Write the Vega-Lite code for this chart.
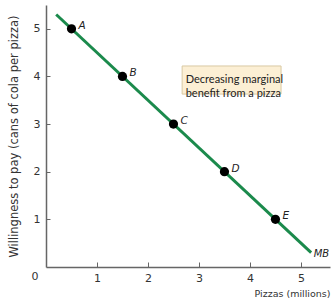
{
  "$schema": "https://vega.github.io/schema/vega-lite/v6.json",
  "autosize": "none",
  "width": 284,
  "height": 262,
  "padding": {"left": 46, "top": 5, "right": 6, "bottom": 33},
  "background": "white",
  "config": {
    "view": {"stroke": null},
    "font": "DejaVu Sans",
    "axis": {"domainColor": "#666", "domainWidth": 1.5, "tickColor": "#666", "tickWidth": 1, "labelColor": "#333", "labelFont": "DejaVu Sans", "labelFontSize": 11, "titleFont": "DejaVu Sans", "titleFontWeight": "normal", "titleFontSize": 10.5, "titleColor": "#333", "grid": false, "format": "d"}
  },
  "datasets": {
    "points": [
      {"pizzas": 0.5, "wtp": 5, "label": "A"},
      {"pizzas": 1.5, "wtp": 4, "label": "B"},
      {"pizzas": 2.5, "wtp": 3, "label": "C"},
      {"pizzas": 3.5, "wtp": 2, "label": "D"},
      {"pizzas": 4.5, "wtp": 1, "label": "E"}
    ],
    "curve": [
      {"pizzas": 0.2, "wtp": 5.3},
      {"pizzas": 5.2, "wtp": 0.3}
    ],
    "curveLabel": [{"pizzas": 5.25, "wtp": 0.27, "label": "MB"}],
    "origin": [{"pizzas": 0, "wtp": 0, "label": "0"}],
    "box": [{"x1": 2.67, "x2": 4.61, "y1": 4.22, "y2": 3.63}],
    "note": [{"x": 2.74, "y": 3.93, "text": "Decreasing marginal\nbenefit from a pizza"}]
  },
  "layer": [
    {
      "data": {"name": "box"},
      "mark": {"type": "rect", "fill": "#fcefd4", "stroke": "#d9c9a3", "strokeWidth": 1},
      "encoding": {
        "x": {"field": "x1", "type": "quantitative", "scale": {"domain": [0, 5.57], "nice": false}},
        "x2": {"field": "x2"},
        "y": {"field": "y1", "type": "quantitative", "scale": {"domain": [0, 5.5], "nice": false}},
        "y2": {"field": "y2"}
      }
    },
    {
      "data": {"name": "note"},
      "mark": {"type": "text", "align": "left", "baseline": "middle", "font": "Lato", "fontSize": 11, "lineHeight": 14, "lineBreak": "\n", "color": "#222"},
      "encoding": {
        "x": {"field": "x", "type": "quantitative"},
        "y": {"field": "y", "type": "quantitative"},
        "text": {"field": "text"}
      }
    },
    {
      "data": {"name": "curve"},
      "mark": {"type": "line", "color": "#1b8a4c", "strokeWidth": 3},
      "encoding": {
        "x": {"field": "pizzas", "type": "quantitative", "scale": {"domain": [0, 5.57], "nice": false},
          "axis": {"values": [1, 2, 3, 4, 5], "title": "Pizzas (millions)", "titleFontSize": 9.5, "titleAnchor": "end", "titleAlign": "right", "titlePadding": 5, "tickSize": -5, "labelPadding": 10, "labelFlush": false}},
        "y": {"field": "wtp", "type": "quantitative", "scale": {"domain": [0, 5.5], "nice": false},
          "axis": {"values": [1, 2, 3, 4, 5], "title": "Willingness to pay (cans of cola per pizza)", "titleFontSize": 11.5, "tickSize": -4, "labelPadding": 10, "titlePadding": 14, "titleAnchor": "middle", "labelFlush": false}}
      }
    },
    {
      "data": {"name": "points"},
      "mark": {"type": "point", "filled": true, "color": "black", "size": 85, "opacity": 1},
      "encoding": {
        "x": {"field": "pizzas", "type": "quantitative"},
        "y": {"field": "wtp", "type": "quantitative"}
      }
    },
    {
      "data": {"name": "points"},
      "mark": {"type": "text", "align": "left", "baseline": "middle", "dx": 7, "dy": -3, "fontStyle": "italic", "fontSize": 10.5, "color": "#222"},
      "encoding": {
        "x": {"field": "pizzas", "type": "quantitative"},
        "y": {"field": "wtp", "type": "quantitative"},
        "text": {"field": "label"}
      }
    },
    {
      "data": {"name": "curveLabel"},
      "mark": {"type": "text", "align": "left", "baseline": "middle", "fontStyle": "italic", "fontSize": 10, "color": "#222"},
      "encoding": {
        "x": {"field": "pizzas", "type": "quantitative"},
        "y": {"field": "wtp", "type": "quantitative"},
        "text": {"field": "label"}
      }
    },
    {
      "data": {"name": "origin"},
      "mark": {"type": "text", "align": "center", "baseline": "middle", "dx": -11, "dy": 10, "fontSize": 11, "color": "#333"},
      "encoding": {
        "x": {"field": "pizzas", "type": "quantitative"},
        "y": {"field": "wtp", "type": "quantitative"},
        "text": {"field": "label"}
      }
    }
  ]
}
